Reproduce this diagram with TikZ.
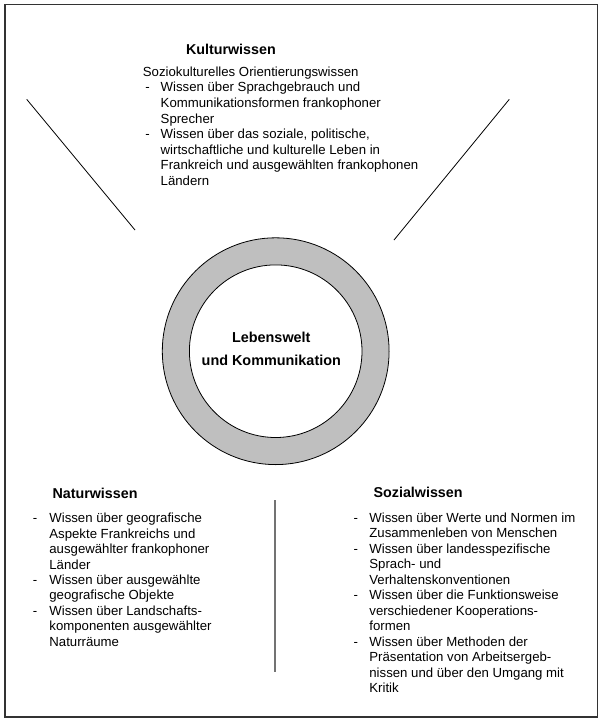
\documentclass[tikz,border=0pt]{standalone}
\usepackage{fontspec}
\setmainfont{Liberation Sans}
\begin{document}
\begin{tikzpicture}[x=1pt,y=-1pt,
  txt/.style={inner sep=0pt, anchor=base west, align=left},
  bodytop/.style={txt, font=\fontsize{13.2}{15.6}\selectfont},
  bodyleft/.style={txt, font=\fontsize{13.2}{15.45}\selectfont},
  bodyright/.style={txt, font=\fontsize{13.2}{15.45}\selectfont},
  head/.style={inner sep=0pt, anchor=base west, font=\fontsize{14.3}{17}\selectfont\bfseries},
  ctext/.style={inner sep=0pt, anchor=base, font=\fontsize{14.4}{17}\selectfont\bfseries},
  dashmark/.style={inner sep=0pt, anchor=base west, font=\fontsize{13.2}{15.5}\selectfont},
  thinline/.style={draw=black, line width=0.8pt},
  sepline/.style={draw=black!55, line width=1.3pt},
  ring/.style={draw=black, line width=0.8pt}
]
\useasboundingbox (0,0) rectangle (603,721);
% frame
\draw[draw=black!80, line width=1.4pt] (5,4.5) rectangle (597.5,717);

% ring
\coordinate (c) at (275.7,351.2);
\fill[fill=black!25, even odd rule] (c) circle[radius=113.4] (c) circle[radius=86.3];
\draw[ring] (c) circle[radius=113.4];
\draw[ring] (c) circle[radius=86.3];
\node[ctext] (lw) at (271.3,342.4) {Lebenswelt};
\node[ctext] (uk) at (271.3,365.1) {und Kommunikation};

% diagonal lines
\coordinate (la) at (26.7,99.3);
\coordinate (lb) at (135,230);
\coordinate (ra) at (509.3,99.3);
\coordinate (rb) at (394,240);
\draw[thinline] (la) -- (lb);
\draw[thinline] (ra) -- (rb);

% vertical separator
\coordinate (va) at (275,500);
\coordinate (vb) at (275,671.7);
\draw[sepline] (va) -- (vb);

% (multi-line nodes are anchored at the baseline of their last line)
% Kulturwissen
\node[head] (kh) at (185.8,54.4) {Kulturwissen};
\node[bodytop] (k0) at (142.7,76.2) {Soziokulturelles Orientierungswissen};
\node[dashmark] (kd1) at (145.1,91.8) {-};
\node[bodytop] (k1) at (160.5,123.0) {Wissen über Sprachgebrauch und\\Kommunikationsformen frankophoner\\Sprecher};
\node[dashmark] (kd2) at (145.1,138.6) {-};
\node[bodytop] (k2) at (160.5,185.4) {Wissen über das soziale, politische,\\wirtschaftliche und kulturelle Leben in\\Frankreich und ausgewählten frankophonen\\Ländern};

% Naturwissen
\node[head] (nh) at (52.3,498.1) {Naturwissen};
\node[dashmark] (nd1) at (32.7,522.7) {-};
\node[bodyleft] (n1) at (49.2,569.05) {Wissen über geografische\\Aspekte Frankreichs und\\ausgewählter frankophoner\\Länder};
\node[dashmark] (nd2) at (32.7,584.5) {-};
\node[bodyleft] (n2) at (49.2,599.95) {Wissen über ausgewählte\\geografische Objekte};
\node[dashmark] (nd3) at (32.7,615.4) {-};
\node[bodyleft] (n3) at (49.2,646.3) {Wissen über Landschafts-\\komponenten ausgewählter\\Naturräume};

% Sozialwissen
\node[head] (sh) at (373.4,497.1) {Sozialwissen};
\node[dashmark] (sd1) at (353.4,522.5) {-};
\node[bodyright] (s1) at (369.2,537.95) {Wissen über Werte und Normen im\\Zusammenleben von Menschen};
\node[dashmark] (sd2) at (353.4,553.4) {-};
\node[bodyright] (s2) at (369.2,584.3) {Wissen über landesspezifische\\Sprach- und\\Verhaltenskonventionen};
\node[dashmark] (sd3) at (353.4,599.75) {-};
\node[bodyright] (s3) at (369.2,630.65) {Wissen über die Funktionsweise\\verschiedener Kooperations-\\formen};
\node[dashmark] (sd4) at (353.4,646.1) {-};
\node[bodyright] (s4) at (369.2,692.45) {Wissen über Methoden der\\Präsentation von Arbeitsergeb-\\nissen und über den Umgang mit\\Kritik};
\end{tikzpicture}
\end{document}
